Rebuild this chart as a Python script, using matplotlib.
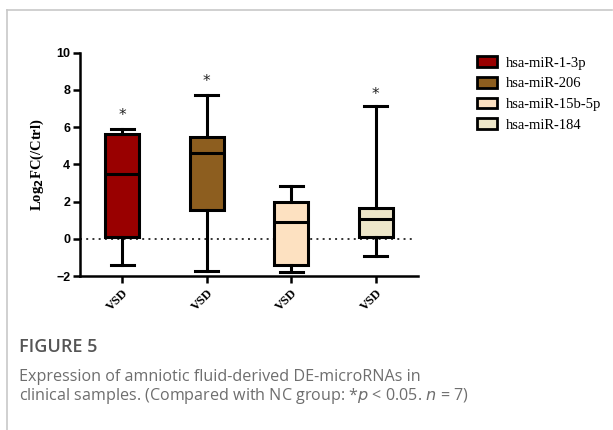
import matplotlib
matplotlib.use("Agg")
import matplotlib.pyplot as plt
from matplotlib.patches import Patch
from matplotlib.lines import Line2D

# box summary values (Log2 FC vs Ctrl)
mirnas = ["hsa-miR-1-3p", "hsa-miR-206", "hsa-miR-15b-5p", "hsa-miR-184"]
whisker_low = [-1.38, -1.72, -1.77, -0.91]
q1 = [0.09, 1.56, -1.38, 0.09]
median = [3.46, 4.62, 0.91, 1.08]
q3 = [5.63, 5.45, 1.99, 1.63]
whisker_high = [5.90, 7.70, 2.83, 7.13]
star_y = [6.6, 8.45, None, 7.75]
colors = ["#990000", "#8d5e1f", "#fde1c1", "#ede6c9"]
group_labels = ["VSD", "VSD", "VSD", "VSD"]

fig = plt.figure(figsize=(6.13, 4.30), dpi=100)

# page frame lines (top and left)
fig.add_artist(Line2D([0.011, 0.999], [0.977, 0.977], color="#c8c8c8", lw=1.2))
fig.add_artist(Line2D([0.011, 0.011], [0.0, 0.977], color="#c8c8c8", lw=1.2))

ax = fig.add_axes([0.1305, 0.358, 0.5515, 0.5195])

stats = []
for i in range(len(mirnas)):
    stats.append({"whislo": whisker_low[i], "q1": q1[i], "med": median[i],
                  "q3": q3[i], "whishi": whisker_high[i], "fliers": []})

lw = 2.2
bp = ax.bxp(stats, positions=range(1, len(mirnas) + 1), widths=0.4,
            patch_artist=True, showfliers=False,
            boxprops=dict(linewidth=lw, edgecolor="black"),
            medianprops=dict(color="black", linewidth=lw),
            whiskerprops=dict(color="black", linewidth=lw),
            capprops=dict(color="black", linewidth=lw),
            capwidths=0.27)
for patch, c in zip(bp["boxes"], colors):
    patch.set_facecolor(c)

for i, sy in enumerate(star_y):
    if sy is not None:
        ax.text(i + 1, sy, "*", ha="center", va="center", fontsize=11,
                color="#222222")

ax.axhline(0, color="#333333", linestyle=(0, (1, 2.2)), linewidth=1.4,
           xmax=0.99, zorder=0)

ax.set_xlim(0.5, 4.5)
ax.set_ylim(-2, 10)
ax.set_yticks([-2, 0, 2, 4, 6, 8, 10])
ax.set_xticks(range(1, len(mirnas) + 1))
ax.set_xticklabels(group_labels, rotation=45, ha="right", rotation_mode="anchor",
                   family="Liberation Serif", fontweight="bold", fontsize=9)
for lab in ax.get_yticklabels():
    lab.set_fontweight("bold")
    lab.set_fontsize(9)
    lab.set_family("Liberation Sans")
ax.tick_params(axis="both", width=1.8, length=5, direction="out", pad=2)
ax.tick_params(axis="x", pad=3)
for s in ["top", "right"]:
    ax.spines[s].set_visible(False)
for s in ["left", "bottom"]:
    ax.spines[s].set_linewidth(1.8)

ax.set_ylabel("Log$_\\mathbf{2}$FC(/Ctrl)", family="Liberation Serif",
              fontweight="bold", fontsize=10.5, labelpad=7)

handles = [Patch(facecolor=c, edgecolor="black", linewidth=2, label=m)
           for c, m in zip(colors, mirnas)]
fig.legend(handles=handles, loc="upper left", bbox_to_anchor=(0.757, 0.9),
           frameon=False, prop={"family": "Liberation Serif", "size": 10.5},
           handlelength=1.35, handleheight=0.75, handletextpad=0.65,
           labelspacing=0.5)

fig.text(0.031, 0.192, "FIGURE 5", fontsize=13, color="#555555",
         family="Open Sans", va="center", fontweight="semibold")
fig.text(0.031, 0.123, "Expression of amniotic fluid-derived DE-microRNAs in",
         fontsize=11.6, color="#6e6e6e", family="Open Sans", va="center")
fig.text(0.031, 0.080,
         "clinical samples. (Compared with NC group: *$\\it{p}$ < 0.05. $\\it{n}$ = 7)",
         fontsize=11.6, color="#6e6e6e", family="Open Sans", va="center")

fig.savefig("out.png", dpi=100)
